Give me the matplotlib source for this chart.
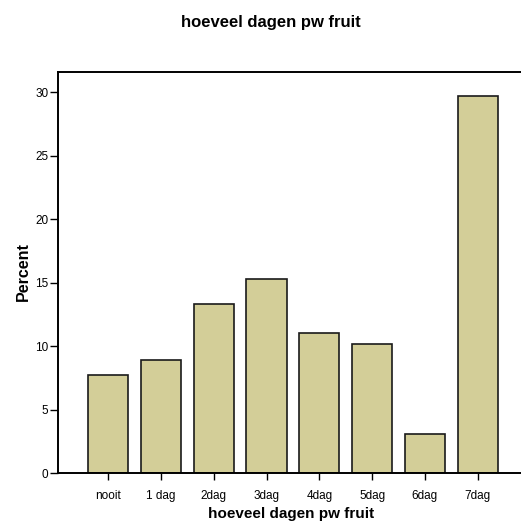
import matplotlib
matplotlib.use("Agg")
import matplotlib.pyplot as plt
import numpy as np

categories = ['nooit', '1 dag', '2dag', '3dag', '4dag', '5dag', '6dag', '7dag']
percent = [7.7, 8.9, 13.3, 15.3, 11.0, 10.2, 3.1, 29.7]
yticks = [0, 5, 10, 15, 20, 25, 30]

plt.rcParams['font.family'] = ['Liberation Sans', 'DejaVu Sans']

W, H = 521, 523
fig = plt.figure(figsize=(W / 100, H / 100), dpi=100)
ax = fig.add_axes([58 / W, 1 - 473 / H, 1 - 58 / W, 401 / H])

x = np.arange(len(categories))
ax.bar(x, percent, width=0.76, color='#d3ce98', edgecolor='#1a1a1a', linewidth=1.2)

ax.set_xlim(-0.95, 7.82)
ax.set_ylim(0, 31.6)
ax.set_xticks(x)
ax.set_xticklabels(categories, fontsize=8.5)
ax.set_yticks(yticks)
ax.set_yticklabels([str(t) for t in yticks], fontsize=8.5)
ax.tick_params(axis='y', direction='out', length=6, width=1.0, pad=1)
ax.tick_params(axis='x', direction='out', length=5, width=1.0, pad=7)

for s in ['left', 'top', 'bottom']:
    ax.spines[s].set_linewidth(1.4)
ax.spines['right'].set_visible(False)

# axis titles placed by pixel position
fig.text(291 / W, 1 - 514 / H, 'hoeveel dagen pw fruit', ha='center', va='center',
         fontsize=11, fontweight='bold')
fig.text(23 / W, 1 - 272 / H, 'Percent', ha='center', va='center', rotation=90,
         fontsize=11.5, fontweight='bold')
fig.text(271 / W, 1 - 23 / H, 'hoeveel dagen pw fruit', ha='center', va='center',
         fontsize=12, fontweight='bold')

plt.savefig('out.png', dpi=100)
